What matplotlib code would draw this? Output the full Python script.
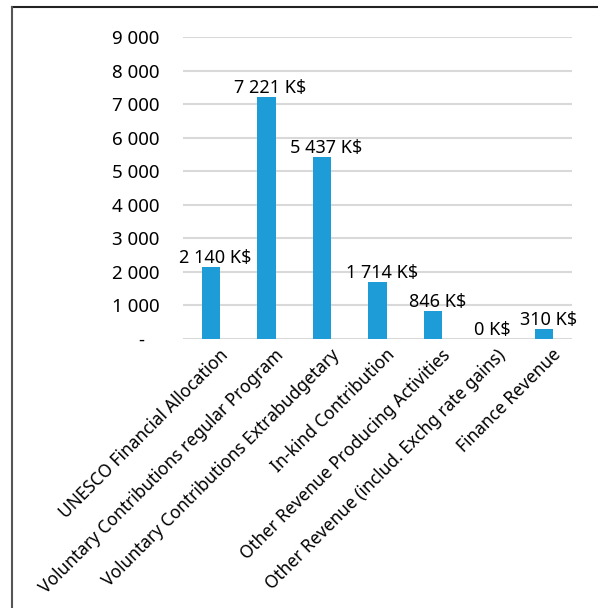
import matplotlib.pyplot as plt
import matplotlib as mpl
import numpy as np
from matplotlib.lines import Line2D

categories = ['UNESCO Financial Allocation',
              'Voluntary Contributions regular Program',
              'Voluntary Contributions Extrabudgetary',
              'In-kind Contribution',
              'Other Revenue Producing Activities',
              'Other Revenue (includ. Exchg rate gains)',
              'Finance Revenue']
values = [2140, 7221, 5437, 1714, 846, 0, 310]
yticks = [0, 1000, 2000, 3000, 4000, 5000, 6000, 7000, 8000, 9000]


def fmt_thousands(v):
    """Format with a space as thousands separator, '-' for zero."""
    if v == 0:
        return '-   '
    return '{:,}'.format(int(v)).replace(',', ' ')


plt.rcParams['font.family'] = ['Noto Sans', 'DejaVu Sans']

fig = plt.figure(figsize=(5.98, 6.08), dpi=100)
ax = fig.add_axes([0.306, 0.4424, 0.6505, 0.4966])

x = np.arange(len(categories))
ax.bar(x, values, width=0.33, color='#1e9cd7', zorder=3)

ax.set_xlim(-0.5, len(categories) - 0.5)
ax.set_ylim(0, 9000)
ax.set_yticks(yticks)
ax.set_yticklabels([fmt_thousands(v) for v in yticks], fontsize=13.5)
ax.grid(axis='y', color='#d9d9d9', linewidth=1.5, zorder=0)
ax.tick_params(axis='both', length=0)
ax.tick_params(axis='y', pad=17)
for s in ax.spines.values():
    s.set_visible(False)

ax.set_xticks(x)
ax.set_xticklabels(categories, rotation=45, ha='right', va='top',
                   rotation_mode='anchor', fontsize=12.5)
for lbl in ax.get_xticklabels():
    lbl.set_transform(lbl.get_transform() +
                      mpl.transforms.ScaledTranslation(8 / 100, -2 / 100, fig.dpi_scale_trans))

# value labels above bars
for xi, v in zip(x, values):
    txt = (fmt_thousands(v) if v else '0') + ' K$'
    ax.annotate(txt, (xi, v), xytext=(3, 0), textcoords='offset points',
                ha='center', va='bottom', fontsize=13)

# frame lines (top and left)
fig.add_artist(Line2D([0.020, 1.0], [0.9885, 0.9885], color='#222222',
                      linewidth=1.5, transform=fig.transFigure))
fig.add_artist(Line2D([0.020, 0.020], [0.0, 0.9885], color='#555555',
                      linewidth=1.5, transform=fig.transFigure))

fig.savefig('out.png', dpi=100)
